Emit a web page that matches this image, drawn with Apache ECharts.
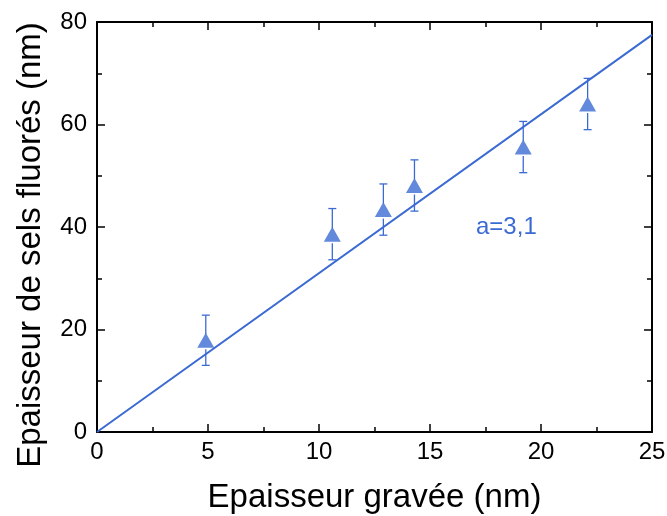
<!DOCTYPE html>
<html><head><meta charset="utf-8">
<script src="https://cdn.jsdelivr.net/npm/echarts@6/dist/echarts.min.js"></script>
<style>html,body{margin:0;padding:0;background:#fff}#c{width:667px;height:516px}</style>
</head><body><div id="c"></div>
<script>
var xValues = [4.9, 10.6, 12.9, 14.3, 19.2, 22.1];
var yValues = [17.9, 38.6, 43.4, 48.1, 55.6, 64.0];
var yErrors = [4.9, 5.0, 5.0, 5.0, 5.0, 5.0];
var fitLine = [[0, 0], [25, 77.5]];
var annotation = 'a=3,1';
var xTitle = 'Epaisseur gravée (nm)';
var yTitle = 'Epaisseur de sels fluorés (nm)';
var blue = '#3b6bd2';
var font = 'Liberation Sans, Arial, sans-serif';

var pts = xValues.map(function (x, i) { return [x, yValues[i]]; });
var errs = xValues.map(function (x, i) { return [x, yValues[i], yValues[i] - yErrors[i], yValues[i] + yErrors[i]]; });

var chart = echarts.init(document.getElementById('c'));
var axisCommon = {
  axisLine: { show: true, onZero: false, lineStyle: { color: '#000', width: 2 } },
  axisTick: { show: true, inside: true, length: 8, lineStyle: { color: '#000', width: 1.5 } },
  minorTick: { show: true, splitNumber: 2, length: 5, lineStyle: { color: '#000', width: 1.5 } },
  splitLine: { show: false }
};
chart.setOption({
  animation: false,
  grid: { left: 97, right: 15, top: 22, bottom: 84, containLabel: false, outerBoundsMode: 'none' },
  xAxis: [
    Object.assign({}, axisCommon, {
      type: 'value', min: 0, max: 25, interval: 5, position: 'bottom',
      name: xTitle, nameLocation: 'middle', nameGap: 49,
      nameTextStyle: { fontFamily: font, fontSize: 33, color: '#000' },
      axisLabel: { fontFamily: font, fontSize: 24, color: '#000', margin: 8 }
    }),
    Object.assign({}, axisCommon, {
      type: 'value', min: 0, max: 25, interval: 5, position: 'top',
      axisLabel: { show: false }
    })
  ],
  yAxis: [
    Object.assign({}, axisCommon, {
      type: 'value', min: 0, max: 80, interval: 20, position: 'left',
      axisLabel: { fontFamily: font, fontSize: 24, color: '#000', margin: 10 }
    }),
    Object.assign({}, axisCommon, {
      type: 'value', min: 0, max: 80, interval: 20, position: 'right',
      axisLabel: { show: false }
    })
  ],
  series: [
    {
      type: 'line', data: fitLine, symbol: 'none',
      lineStyle: { color: blue, width: 2 }, z: 2
    },
    {
      type: 'custom', data: errs, z: 3,
      renderItem: function (params, api) {
        var x = api.value(0);
        var c = api.coord([x, api.value(1)]);
        var lo = api.coord([x, api.value(2)]);
        var hi = api.coord([x, api.value(3)]);
        var cap = 4;
        var st = { stroke: blue, lineWidth: 1.3 };
        return {
          type: 'group',
          children: [
            { type: 'line', shape: { x1: hi[0], y1: hi[1], x2: hi[0], y2: c[1] - 6 }, style: st },
            { type: 'line', shape: { x1: lo[0], y1: lo[1], x2: lo[0], y2: c[1] + 9 }, style: st },
            { type: 'line', shape: { x1: lo[0] - cap, y1: lo[1], x2: lo[0] + cap, y2: lo[1] }, style: st },
            { type: 'line', shape: { x1: hi[0] - cap, y1: hi[1], x2: hi[0] + cap, y2: hi[1] }, style: st }
          ]
        };
      }
    },
    {
      type: 'scatter', data: pts, symbol: 'triangle', symbolSize: [17, 15], z: 4,
      itemStyle: { color: blue }
    }
  ],
  graphic: [
    { type: 'text', left: 476, top: 215, style: { text: annotation, fontFamily: font, fontSize: 24, fill: blue } },
    { type: 'text', x: 31, y: 245, rotation: Math.PI / 2,
      style: { text: yTitle, fontFamily: font, fontSize: 33, fill: '#000', align: 'center', verticalAlign: 'middle' } }
  ]
});
</script></body></html>
